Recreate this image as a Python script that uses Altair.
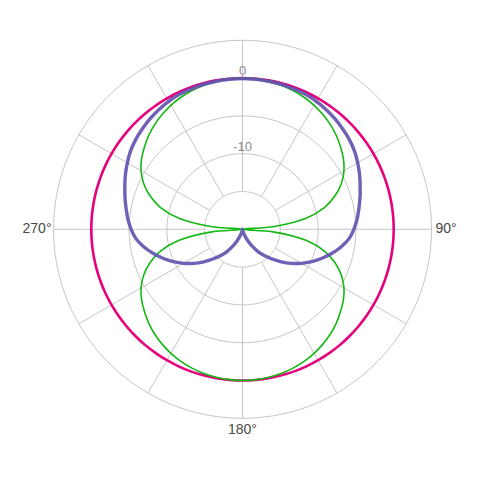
import math
import altair as alt
import pandas as pd

# ---------------- data ----------------
ANGLES = list(range(0, 360, 5))  # degrees, clockwise from top

OMNI = [0.0] * 72

CARDIOID = [
    -0.07, -0.08, -0.12, -0.17, -0.23, -0.28, -0.45, -0.69, -0.95, -1.25,
    -1.55, -1.93, -2.41, -2.91, -3.44, -3.91, -4.37, -4.79, -5.27, -5.85,
    -6.73, -7.74, -8.80, -9.88, -10.99, -12.15, -13.31, -14.44, -15.43, -16.36,
    -17.42, -18.34, -19.07, -19.54, -19.80, -19.95, -20.0,
    -19.95, -19.80, -19.54, -19.07, -18.34, -17.42, -16.36, -15.43, -14.44,
    -13.31, -12.15, -10.99, -9.88, -8.80, -7.74, -6.73, -5.85, -5.27, -4.79,
    -4.37, -3.91, -3.44, -2.91, -2.41, -1.93, -1.55, -1.25, -0.95, -0.69,
    -0.45, -0.28, -0.23, -0.17, -0.12, -0.08,
]

FIGURE8 = [
    0.0, -0.04, -0.13, -0.26, -0.46, -0.73, -1.06, -1.46, -1.92, -2.45,
    -3.07, -3.71, -4.50, -5.56, -6.95, -8.74, -11.39, -15.76, -20.0,
    -15.76, -11.39, -8.74, -6.95, -5.56, -4.50, -3.71, -3.07, -2.45, -1.92,
    -1.46, -1.06, -0.73, -0.46, -0.26, -0.13, -0.04, 0.0,
    -0.04, -0.13, -0.26, -0.46, -0.73, -1.06, -1.46, -1.92, -2.45, -3.07,
    -3.71, -4.50, -5.56, -6.95, -8.74, -11.39, -15.76, -20.0,
    -15.76, -11.39, -8.74, -6.95, -5.56, -4.50, -3.71, -3.07, -2.45, -1.92,
    -1.46, -1.06, -0.73, -0.46, -0.26, -0.13, -0.04,
]

SERIES = ["omni", "figure8", "cardioid"]
SERIES_VALUES = [OMNI, FIGURE8, CARDIOID]
SERIES_COLORS = ["#e6007e", "#14b814", "#6452b0"]

R_MIN, R_MAX = -20, 5
RING_DB = [-15, -10, -5, 0, 5]
SPOKE_ANGLES = list(range(0, 360, 30))
RADIAL_TICKS = [0, -10]
RADIAL_TICK_TEXT = ["0", "-10"]
ANGLE_TICKS = [90, 180, 270]
ANGLE_TICK_TEXT = ["90°", "180°", "270°"]

# ---------------- layout ----------------
W = H = 460
PX = 189 / (R_MAX - R_MIN)          # pixels per dB
CX, CY = 234.5, 221.3               # pole position inside the plot area
XDOM = [-CX / PX, (W - CX) / PX]
YDOM = [-(H - CY) / PX, CY / PX]
FONT = "Liberation Sans"


def polar(db, deg):
    u = db - R_MIN
    a = math.radians(deg)
    return u * math.sin(a), u * math.cos(a)


rows = []
for name, vals in zip(SERIES, SERIES_VALUES):
    pts = list(zip(ANGLES, vals)) + [(360, vals[0]), (365, vals[1])]
    pts = [(ANGLES[-1], vals[-1])] + pts
    for i, (a, v) in enumerate(pts):
        x, y = polar(v, a)
        rows.append({"series": name, "i": i, "x": x, "y": y})
series_df = pd.DataFrame(rows)

ring_rows = []
for r in RING_DB:
    for i, a in enumerate(range(0, 361, 2)):
        x, y = polar(r, a)
        ring_rows.append({"ring": r, "i": i, "x": x, "y": y})
ring_df = pd.DataFrame(ring_rows)

spoke_rows = []
for a in SPOKE_ANGLES:
    x, y = polar(RING_DB[0], a)
    x2, y2 = polar(RING_DB[-1], a)
    spoke_rows.append({"x": x, "y": y, "x2": x2, "y2": y2})
spoke_df = pd.DataFrame(spoke_rows)

rad_df = pd.DataFrame(
    [{"x": polar(v, 0)[0], "y": polar(v, 0)[1], "t": t} for v, t in zip(RADIAL_TICKS, RADIAL_TICK_TEXT)]
)
ang_df = pd.DataFrame(
    [{"x": polar(R_MAX, a)[0], "y": polar(R_MAX, a)[1], "t": t, "a": a} for a, t in zip(ANGLE_TICKS, ANGLE_TICK_TEXT)]
)

X = alt.X("x:Q", scale=alt.Scale(domain=XDOM, nice=False, zero=False), axis=None)
Y = alt.Y("y:Q", scale=alt.Scale(domain=YDOM, nice=False, zero=False), axis=None)

GRID = "#c6c6c6"
rings = alt.Chart(ring_df).mark_line(color=GRID, strokeWidth=1).encode(
    x=X, y=Y, detail="ring:N", order="i:Q"
)
spokes = alt.Chart(spoke_df).mark_rule(color=GRID, strokeWidth=1).encode(
    x=X, y=Y, x2="x2:Q", y2="y2:Q"
)

lines = []
widths = {"omni": 2.6, "figure8": 1.6, "cardioid": 3.4}
opac = {"omni": 1.0, "figure8": 1.0, "cardioid": 0.92}
for name, col in zip(SERIES, SERIES_COLORS):
    lines.append(
        alt.Chart(series_df)
        .transform_filter(alt.datum.series == name)
        .mark_line(color=col, strokeWidth=widths[name], opacity=opac[name],
                   strokeJoin="round", interpolate="catmull-rom")
        .encode(x=X, y=Y, order="i:Q")
    )

rad_text = alt.Chart(rad_df).mark_text(
    baseline="bottom", align="center", dy=0, fontSize=13, color="#8a8a8a", font=FONT
).encode(x=X, y=Y, text="t:N")

ang_layers = []
spec = {
    90: dict(align="left", baseline="middle", dx=4),
    180: dict(align="center", baseline="top", dy=5),
    270: dict(align="right", baseline="middle", dx=-2),
}
for a in ANGLE_TICKS:
    ang_layers.append(
        alt.Chart(ang_df)
        .transform_filter(alt.datum.a == a)
        .mark_text(fontSize=14, color="#4a4a4a", font=FONT, **spec[a])
        .encode(x=X, y=Y, text="t:N")
    )

chart = (
    alt.layer(rings, spokes, *lines, rad_text, *ang_layers)
    .properties(width=W, height=H, padding=0, autosize=alt.AutoSizeParams(type="none"),
                background="white")
    .configure_view(stroke=None)
)

chart.save("out.html", embed_options={"renderer": "svg", "actions": False})
